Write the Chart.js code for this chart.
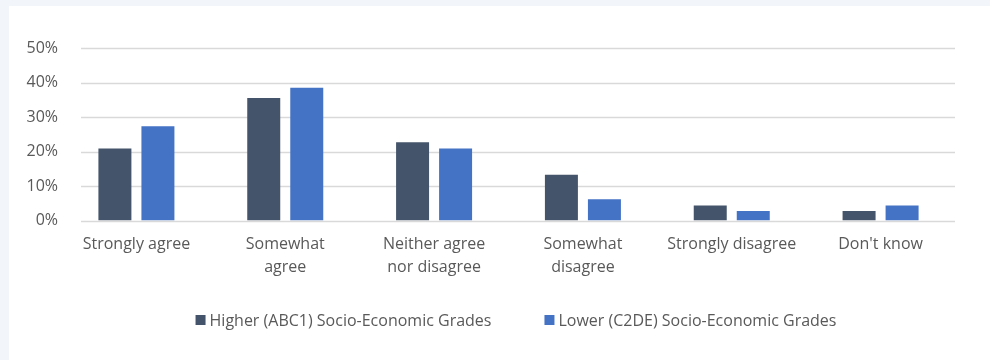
<!DOCTYPE html>
<html>
<head>
<meta charset="utf-8">
<script src="https://cdn.jsdelivr.net/npm/chart.js@4.4.1/dist/chart.umd.min.js"></script>
<style>
  html, body { margin: 0; padding: 0; background: #f2f5f9; }
  body { width: 990px; height: 360px; position: relative; overflow: hidden; }
  #panel { position: absolute; left: 9px; top: 6px; right: 0; bottom: 0; background: #ffffff; }
  #chart { display: block; }
</style>
</head>
<body>
<div id="panel"><canvas id="chart" width="981" height="354"></canvas></div>
<script>
const CATEGORIES = [
  "Strongly agree",
  ["Somewhat", "agree"],
  ["Neither agree", "nor disagree"],
  ["Somewhat", "disagree"],
  "Strongly disagree",
  "Don't know"
];
const HIGHER_ABC1 = [20.9, 35.5, 22.7, 13.3, 4.4, 2.8];
const LOWER_C2DE = [27.3, 38.5, 20.9, 6.2, 2.8, 4.4];
const SERIES_NAMES = ["Higher (ABC1) Socio-Economic Grades", "Lower (C2DE) Socio-Economic Grades"];

const TEXT = "#595959";
const GRID = "#d9d9d9";
const FONT = "'Open Sans', 'Liberation Sans', sans-serif";

// horizontal gridlines start a little right of the plot edge
const gridLines = {
  id: "gridLines",
  beforeDatasetsDraw(chart) {
    const { ctx, chartArea, scales } = chart;
    const y = scales.y;
    ctx.save();
    ctx.strokeStyle = GRID;
    ctx.lineWidth = 1.6;
    y.ticks.forEach(t => {
      const py = Math.round(y.getPixelForValue(t.value)) + 0.5;
      ctx.beginPath();
      ctx.moveTo(chartArea.left + 19, py);
      ctx.lineTo(chartArea.right, py);
      ctx.stroke();
    });
    ctx.restore();
  }
};

// one-row legend under the axis labels, squares tight to the text
const bottomLegend = {
  id: "bottomLegend",
  afterDraw(chart, args, opts) {
    const { ctx } = chart;
    const box = 10, textGap = 4, itemGap = 53;
    ctx.save();
    ctx.font = "16px " + FONT;
    ctx.textBaseline = "middle";
    const items = chart.data.datasets.map(ds => ({
      text: ds.label, color: ds.backgroundColor, w: ctx.measureText(ds.label).width
    }));
    const total = items.reduce((s, it) => s + box + textGap + it.w, 0) + itemGap * (items.length - 1);
    let x = opts.centerX - total / 2;
    items.forEach(it => {
      ctx.fillStyle = it.color;
      ctx.fillRect(x, opts.y - box / 2, box, box);
      ctx.fillStyle = TEXT;
      ctx.fillText(it.text, x + box + textGap, opts.y + 1);
      x += box + textGap + it.w + itemGap;
    });
    ctx.restore();
  }
};

new Chart(document.getElementById("chart"), {
  type: "bar",
  data: {
    labels: CATEGORIES,
    datasets: [
      { label: SERIES_NAMES[0], data: HIGHER_ABC1, backgroundColor: "#44546a" },
      { label: SERIES_NAMES[1], data: LOWER_C2DE, backgroundColor: "#4472c4" }
    ]
  },
  options: {
    responsive: false,
    animation: false,
    devicePixelRatio: 1,
    layout: { padding: { left: 0, right: 35, top: 42, bottom: 69 } },
    datasets: { bar: { categoryPercentage: 0.578, barPercentage: 0.767 } },
    scales: {
      x: {
        grid: { display: false, drawTicks: false },
        border: { display: false },
        ticks: {
          color: TEXT,
          font: { family: FONT, size: 16, lineHeight: 1.45 },
          padding: 12, maxRotation: 0, autoSkip: false
        }
      },
      y: {
        min: 0, max: 50,
        grid: { display: false, drawTicks: false },
        border: { display: false },
        afterFit(scale) { scale.width = 53; },
        ticks: {
          stepSize: 10,
          padding: 4,
          color: TEXT,
          font: { family: FONT, size: 16 },
          callback: v => v + "%"
        }
      }
    },
    plugins: {
      tooltip: { enabled: false },
      legend: { display: false },
      bottomLegend: { centerX: 507, y: 314 }
    }
  },
  plugins: [gridLines, bottomLegend]
});
</script>
</body>
</html>
